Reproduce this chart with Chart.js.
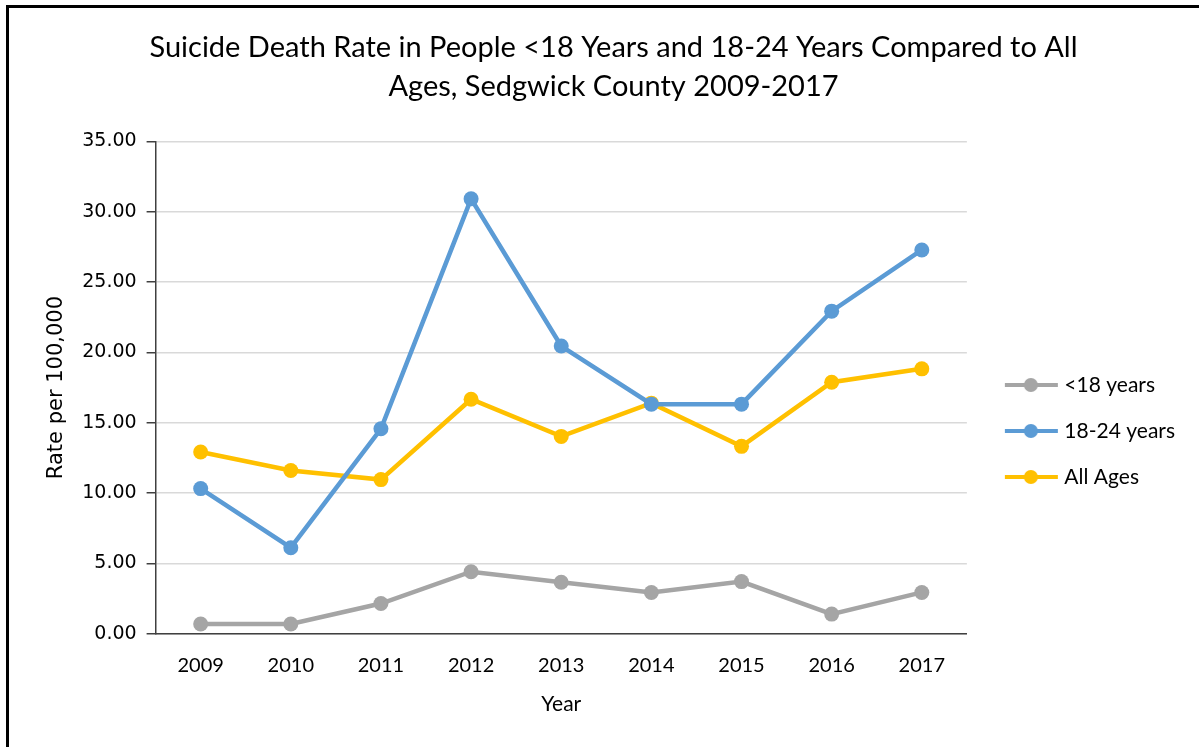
<!DOCTYPE html>
<html>
<head>
<meta charset="utf-8">
<script src="https://cdn.jsdelivr.net/npm/chart.js@4.4.1/dist/chart.umd.min.js"></script>
<style>
  html, body { margin: 0; padding: 0; background: #fff; overflow: hidden; }
  #frame {
    position: absolute; left: 6px; top: 5px; width: 1300px; height: 900px;
    border-left: 3px solid #000; border-top: 3px solid #000;
  }
  #wrap { position: absolute; left: 0; top: 0; width: 1199px; height: 747px; }
</style>
</head>
<body>
<div id="frame"></div>
<div id="wrap"><canvas id="rateChart"></canvas></div>
<script>
// Data
const years = ['2009', '2010', '2011', '2012', '2013', '2014', '2015', '2016', '2017'];
const under18 = [0.70, 0.70, 2.15, 4.41, 3.66, 2.94, 3.71, 1.40, 2.94];
const age18to24 = [10.32, 6.12, 14.57, 30.91, 20.45, 16.32, 16.32, 22.93, 27.28];
const allAges = [12.92, 11.60, 10.96, 16.67, 14.03, 16.39, 13.32, 17.88, 18.83];
const seriesNames = ['<18 years', '18-24 years', 'All Ages'];

const colors = {
    grey: '#A5A5A5',
    blue: '#5B9BD5',
    gold: '#FFC000'
};

const labelFont = 'Lato';
const numFont = '"DejaVu Sans"';

// line-with-dot image for the legend (line sits right of the image centre)
const legendMarker = (color) => {
    const c = document.createElement('canvas');
    c.width = 72;
    c.height = 16;
    const g = c.getContext('2d');
    g.strokeStyle = color;
    g.lineWidth = 4;
    g.beginPath();
    g.moveTo(18, 8);
    g.lineTo(71, 8);
    g.stroke();
    g.fillStyle = color;
    g.beginPath();
    g.arc(44, 8, 7, 0, Math.PI * 2);
    g.fill();
    return c;
};

const makeSeries = (label, data, color) => ({
    label: label,
    data: data,
    borderColor: color,
    backgroundColor: color,
    borderWidth: 4.5,
    pointRadius: 7.5,
    pointHoverRadius: 7.5,
    pointBorderWidth: 0,
    tension: 0,
    legendImg: legendMarker(color)
});

const ctx = document.getElementById('rateChart').getContext('2d');
new Chart(ctx, {
    type: 'line',
    data: {
        labels: years,
        datasets: [
            makeSeries(seriesNames[0], under18, colors.grey),
            makeSeries(seriesNames[1], age18to24, colors.blue),
            makeSeries(seriesNames[2], allAges, colors.gold)
        ]
    },
    options: {
        responsive: true,
        maintainAspectRatio: false,
        animation: false,
        layout: {
            padding: { left: 42, right: 14, top: 0, bottom: 26 }
        },
        plugins: {
            title: {
                display: true,
                text: ['Suicide Death Rate in People <18 Years and 18-24 Years Compared to All',
                       'Ages, Sedgwick County 2009-2017'],
                color: '#000',
                font: { family: labelFont, size: 29, weight: 'normal', lineHeight: 1.35 },
                padding: { top: 28, bottom: 35 }
            },
            legend: {
                position: 'right',
                title: {
                    display: true,
                    text: ' ',
                    font: { size: 10, lineHeight: 1 },
                    padding: { top: 131, bottom: 0 }
                },
                labels: {
                    color: '#000',
                    font: { family: labelFont, size: 21 },
                    usePointStyle: true,
                    pointStyleWidth: 62,
                    padding: 25,
                    generateLabels: (chart) => {
                        const items = Chart.defaults.plugins.legend.labels.generateLabels(chart);
                        items.forEach(item => {
                            item.pointStyle = chart.data.datasets[item.datasetIndex].legendImg;
                        });
                        return items;
                    }
                }
            },
            tooltip: { enabled: false }
        },
        scales: {
            x: {
                offset: true,
                grid: { display: false, drawTicks: false },
                border: { display: true, color: '#404040', width: 1.5 },
                ticks: {
                    color: '#000',
                    font: { family: labelFont, size: 20 },
                    padding: 20
                },
                title: {
                    display: true,
                    text: 'Year',
                    color: '#000',
                    font: { family: labelFont, size: 21 },
                    padding: { top: -6, bottom: 4 }
                }
            },
            y: {
                min: 0,
                max: 35,
                ticks: {
                    stepSize: 5,
                    color: '#000',
                    font: { family: numFont, size: 19 },
                    padding: 10,
                    callback: (value) => value.toFixed(2)
                },
                grid: {
                    color: '#D9D9D9',
                    lineWidth: 1.5,
                    tickColor: '#404040',
                    tickLength: 9,
                    tickWidth: 1.5
                },
                border: { display: true, color: '#404040', width: 1.5 },
                title: {
                    display: true,
                    text: 'Rate per 100,000',
                    color: '#000',
                    font: { family: numFont, size: 21 },
                    padding: { top: 2, bottom: 3 }
                }
            }
        }
    }
});
</script>
</body>
</html>
